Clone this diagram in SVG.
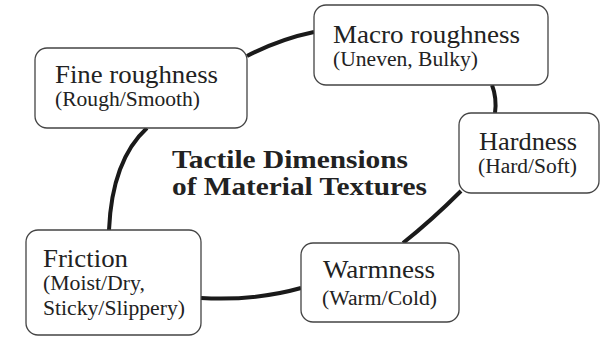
<svg xmlns="http://www.w3.org/2000/svg" width="606" height="338" viewBox="0 0 606 338">
<style>
.box{fill:#fff;stroke:#444;stroke-width:1.3}
.main{font-family:"Liberation Serif","Times New Roman",serif;font-size:25px;fill:#222}
.sub{font-family:"Liberation Serif","Times New Roman",serif;font-size:20.5px;fill:#222}
.title{font-family:"Liberation Serif","Times New Roman",serif;font-size:26px;font-weight:bold;fill:#222}
.conn{fill:none;stroke:#1a1a1a;stroke-width:4;stroke-linecap:butt}
</style>
<rect width="606" height="338" fill="#fff"/>
<g id="connectors">
<path class="conn" d="M247,56 Q280,39 314,32"/>
<path class="conn" d="M492,85 Q497,98 495,113"/>
<path class="conn" d="M461,191 Q432,220 403,243"/>
<path class="conn" d="M301,288 Q255,301 201,298"/>
<path class="conn" d="M147,128 Q112,160 109,230"/>
</g>
<g id="title">
<text class="title" x="172" y="168" textLength="236" lengthAdjust="spacingAndGlyphs">Tactile Dimensions</text>
<text class="title" x="172" y="195" textLength="255" lengthAdjust="spacingAndGlyphs">of Material Textures</text>
</g>
<g id="fine">
<rect class="box" x="35" y="48" width="212" height="80" rx="12"/>
<text class="main" x="55" y="83" textLength="163" lengthAdjust="spacingAndGlyphs">Fine roughness</text>
<text class="sub" x="55" y="106" textLength="145" lengthAdjust="spacingAndGlyphs">(Rough/Smooth)</text>
</g>
<g id="macro">
<rect class="box" x="314" y="5" width="234" height="80" rx="12"/>
<text class="main" x="333" y="43" textLength="187" lengthAdjust="spacingAndGlyphs">Macro roughness</text>
<text class="sub" x="333" y="66" textLength="145" lengthAdjust="spacingAndGlyphs">(Uneven, Bulky)</text>
</g>
<g id="hardness">
<rect class="box" x="459" y="113" width="140" height="80" rx="12"/>
<text class="main" x="479" y="150" textLength="98" lengthAdjust="spacingAndGlyphs">Hardness</text>
<text class="sub" x="478" y="173" textLength="99" lengthAdjust="spacingAndGlyphs">(Hard/Soft)</text>
</g>
<g id="warmness">
<rect class="box" x="301" y="243" width="158" height="79" rx="12"/>
<text class="main" x="323" y="278" textLength="112" lengthAdjust="spacingAndGlyphs">Warmness</text>
<text class="sub" x="322" y="305" textLength="115" lengthAdjust="spacingAndGlyphs">(Warm/Cold)</text>
</g>
<g id="friction">
<rect class="box" x="26" y="230" width="175" height="105" rx="12"/>
<text class="main" x="43" y="267" textLength="85" lengthAdjust="spacingAndGlyphs">Friction</text>
<text class="sub" x="43" y="290" textLength="102" lengthAdjust="spacingAndGlyphs">(Moist/Dry,</text>
<text class="sub" x="43" y="315" textLength="142" lengthAdjust="spacingAndGlyphs">Sticky/Slippery)</text>
</g>
</svg>
